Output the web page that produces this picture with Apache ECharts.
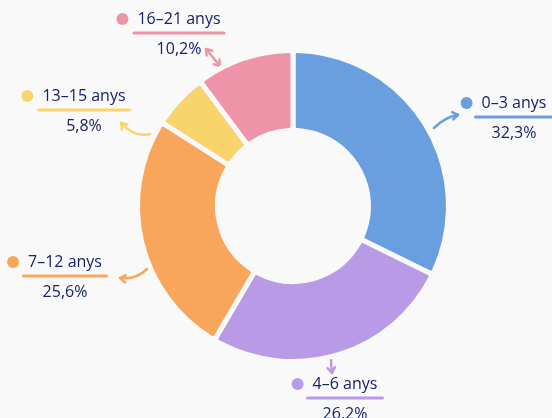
<!DOCTYPE html>
<html>
<head>
    <meta charset="utf-8">
    <title>Distribució per edats</title>
    <script src="https://cdn.jsdelivr.net/npm/echarts@6/dist/echarts.min.js"></script>
    <style>
        html, body { margin: 0; padding: 0; background: #f9f9f9; }
        #chart { width: 552px; height: 418px; }
    </style>
</head>
<body>
<div id="chart"></div>
<script>
    // data
    const categories = ['0–3 anys', '4–6 anys', '7–12 anys', '13–15 anys', '16–21 anys'];
    const shares = [32.3, 26.2, 25.6, 5.8, 10.2];
    const colors = ['#6a9fdf', '#b99ae6', '#f8a65b', '#f9d36c', '#ef94a8'];

    // label placement (center x of name, top y of block) and underline widths
    const labelPos = [[514, 92], [345, 373], [65, 251], [84, 85], [179, 8]];
    const underlineW = [80, 78, 86, 94, 93];

    // hand drawn arrows: start, control, end, double headed
    const arrows = [
        { c: 0, p: [[434, 128], [445, 117], [458, 115]] },
        { c: 1, p: [[331, 359], [331, 366], [332, 373]] },
        { c: 2, p: [[147, 269], [136, 280], [120, 278]] },
        { c: 3, p: [[150, 134], [135, 138], [121, 123]] },
        { c: 4, p: [[220, 66], [213, 57.5], [206, 49]], both: true }
    ];

    const textColor = '#18216a';
    const font = '"Open Sans", "Noto Sans", sans-serif';

    function pct(v) {
        return v.toFixed(1).replace('.', ',') + '%';
    }

    const rich = {
        gap: { width: 9, height: 12, lineHeight: 22, align: 'center' },
        sp: { width: 21, height: 12, lineHeight: 22, align: 'center' },
        name: { fontSize: 16, lineHeight: 22, color: textColor, fontFamily: font, align: 'center' },
        val: { fontSize: 16, lineHeight: 26, color: textColor, fontFamily: font, align: 'center' }
    };
    colors.forEach((c, i) => {
        rich['dot' + i] = { width: 12, height: 12, borderRadius: 6, backgroundColor: c, lineHeight: 22, align: 'center' };
        rich['ul' + i] = { width: underlineW[i], height: 3, borderRadius: 1.5, backgroundColor: c, lineHeight: 6, align: 'center' };
    });

    function arrowHead(tip, from, style) {
        const ang = Math.atan2(tip[1] - from[1], tip[0] - from[0]);
        const len = 6.5;
        const pt = o => [tip[0] - len * Math.cos(ang + o), tip[1] - len * Math.sin(ang + o)];
        return { type: 'polyline', silent: true, shape: { points: [pt(-0.6), tip, pt(0.6)] }, style: style };
    }

    function arrowGraphic(a) {
        const [s, c, e] = a.p;
        const style = { fill: null, stroke: colors[a.c], lineWidth: 2.5, lineCap: 'round', lineJoin: 'round' };
        const children = [
            { type: 'bezierCurve', silent: true, shape: { x1: s[0], y1: s[1], cpx1: c[0], cpy1: c[1], x2: e[0], y2: e[1] }, style: style },
            arrowHead(e, c, style)
        ];
        if (a.both) children.push(arrowHead(s, c, style));
        return { type: 'group', children: children };
    }

    const chart = echarts.init(document.getElementById('chart'));

    chart.setOption({
        backgroundColor: '#f9f9f9',
        animation: false,
        series: [{
            type: 'pie',
            center: [293, 206],
            radius: [75.5, 155.5],
            startAngle: 90,
            clockwise: true,
            avoidLabelOverlap: false,
            emphasis: { disabled: true },
            itemStyle: { borderColor: '#f9f9f9', borderWidth: 5, borderRadius: 4 },
            label: {
                show: true,
                position: 'outside',
                align: 'center',
                formatter: p => `{dot${p.dataIndex}|}{gap|}{name|${p.name}}{sp|}\n{ul${p.dataIndex}|}\n{val|${pct(p.value)}}`,
                rich: rich
            },
            labelLine: { show: false },
            labelLayout: params => ({
                x: labelPos[params.dataIndex][0],
                y: labelPos[params.dataIndex][1],
                align: 'center',
                verticalAlign: 'top'
            }),
            data: categories.map((n, i) => ({
                name: n,
                value: shares[i],
                itemStyle: { color: colors[i] }
            }))
        }],
        graphic: arrows.map(arrowGraphic)
    });
</script>
</body>
</html>
